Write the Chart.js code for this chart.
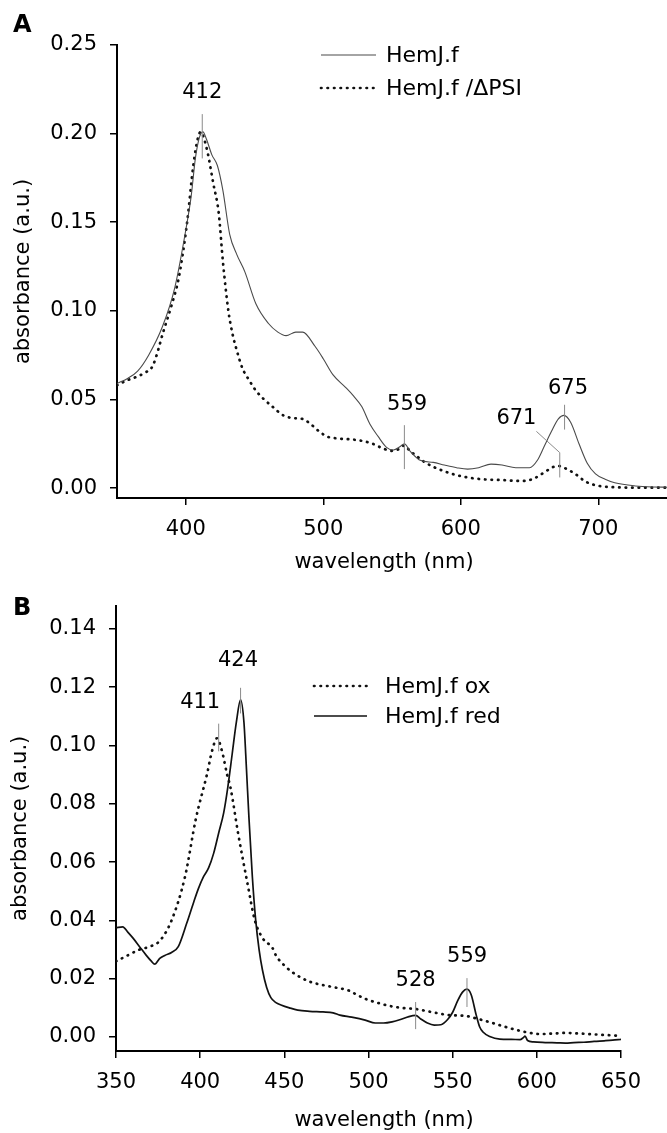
<!DOCTYPE html>
<html>
<head>
<meta charset="utf-8">
<script src="https://cdn.jsdelivr.net/npm/chart.js@4.4.1/dist/chart.umd.min.js"></script>
<style>
body { margin: 0; background: #fff; }
#wrap { position: relative; width: 667px; height: 1133px; }
canvas { position: absolute; left: 0; }
</style>
</head>
<body>
<div id="wrap">
  <canvas id="chartA" width="667" height="580" style="top:0"></canvas>
  <canvas id="chartB" width="667" height="553" style="top:580px"></canvas>
</div>
<script>
// ---- panel A : HemJ.f and HemJ.f /ΔPSI ----
var wlA_f = [350, 358, 365, 373, 383, 392, 401, 404, 407, 410, 412.5, 415, 419, 423, 427, 432, 437, 443, 451, 460, 467, 473, 480, 485, 494, 500, 507, 516, 522, 528, 534, 540, 546, 551, 556, 559, 563, 571, 580, 588, 597, 605, 613, 622, 630, 640, 650, 656, 661, 666, 671, 675, 680, 686, 692, 698, 705, 712, 727, 740, 750];
var absA_f = [0.059, 0.062, 0.066, 0.075, 0.091, 0.113, 0.150, 0.165, 0.186, 0.198, 0.201, 0.197, 0.188, 0.182, 0.168, 0.143, 0.132, 0.122, 0.104, 0.093, 0.088, 0.086, 0.088, 0.088, 0.080, 0.073, 0.064, 0.057, 0.052, 0.046, 0.036, 0.029, 0.023, 0.0215, 0.0235, 0.025, 0.021, 0.0155, 0.0145, 0.013, 0.0115, 0.0107, 0.0115, 0.0135, 0.013, 0.0115, 0.0115, 0.016, 0.024, 0.032, 0.039, 0.041, 0.037, 0.025, 0.014, 0.008, 0.005, 0.003, 0.0012, 0.0006, 0.0005];

var wlA_psi = [350, 358, 365, 370, 376, 384, 390, 395, 401, 405.5, 409, 411, 413, 416, 420, 424, 427, 431, 434, 437, 441, 446, 451, 457, 463, 471, 478, 485, 491, 497, 503, 510, 520, 529, 536, 543, 550, 555, 559, 563, 568, 573, 580, 588, 596, 605, 615, 630, 645, 652, 657, 662, 667, 671, 675, 680, 685, 690, 697, 705, 714, 730, 750];
var absA_psi = [0.058, 0.061, 0.063, 0.065, 0.069, 0.089, 0.104, 0.119, 0.150, 0.182, 0.198, 0.201, 0.198, 0.189, 0.172, 0.155, 0.128, 0.100, 0.087, 0.078, 0.068, 0.061, 0.055, 0.050, 0.046, 0.041, 0.0395, 0.039, 0.036, 0.032, 0.029, 0.028, 0.0275, 0.0265, 0.025, 0.0225, 0.021, 0.022, 0.024, 0.021, 0.018, 0.015, 0.012, 0.0095, 0.0075, 0.006, 0.005, 0.0045, 0.004, 0.005, 0.007, 0.0095, 0.0118, 0.0125, 0.0115, 0.0095, 0.007, 0.004, 0.0018, 0.0008, 0.0004, 0.0002, 0.0002];

var xTicksA = [400, 500, 600, 700];
var yTicksA = [0.00, 0.05, 0.10, 0.15, 0.20, 0.25];

// ---- panel B : HemJ.f ox and HemJ.f red ----
var wlB_ox = [350, 357, 364, 370, 376, 383, 391, 397.5, 404, 407, 410, 413, 416, 418, 422.5, 428, 432.5, 437, 443, 445, 451, 458, 465, 473, 480, 488, 493, 498.5, 505, 513, 520, 528, 538, 548, 558, 565, 572, 580, 588, 595, 602, 610, 617, 625, 637, 650];
var absB_ox = [0.026, 0.028, 0.030, 0.031, 0.033, 0.040, 0.055, 0.075, 0.090, 0.098, 0.1025, 0.098, 0.090, 0.0856, 0.070, 0.053, 0.040, 0.034, 0.0305, 0.028, 0.024, 0.021, 0.019, 0.0178, 0.017, 0.016, 0.0145, 0.013, 0.0118, 0.0106, 0.0100, 0.0096, 0.0085, 0.0075, 0.0072, 0.0062, 0.0051, 0.0037, 0.0024, 0.0015, 0.001, 0.0012, 0.0014, 0.0012, 0.0008, 0.0004];

var wlB_red = [350, 354, 357, 360, 364, 368, 371, 373, 376, 379, 383, 387, 392, 396, 399, 402, 405, 408, 411, 414, 416.5, 419, 421.5, 424, 426, 427.5, 429, 431, 433, 435, 437, 439.5, 442, 445, 448, 453, 458, 465, 473, 479, 483, 490, 498, 504, 509, 514, 519, 524, 528, 531, 535, 539, 543, 547, 550, 553, 556, 558.5, 561, 564, 566, 568, 572, 578, 585, 590, 592, 593, 594.5, 598, 605, 612, 617, 622, 628, 634, 640, 645, 650];
var absB_red = [0.0375, 0.0378, 0.036, 0.034, 0.031, 0.028, 0.026, 0.025, 0.027, 0.028, 0.029, 0.031, 0.039, 0.046, 0.051, 0.055, 0.058, 0.063, 0.070, 0.077, 0.086, 0.097, 0.108, 0.1157, 0.108, 0.092, 0.075, 0.055, 0.040, 0.030, 0.023, 0.017, 0.0135, 0.0118, 0.011, 0.0100, 0.0092, 0.0088, 0.0086, 0.0083, 0.0075, 0.0068, 0.0058, 0.0048, 0.0048, 0.0052, 0.0060, 0.0070, 0.0074, 0.0062, 0.0048, 0.0041, 0.0042, 0.0060, 0.0085, 0.0125, 0.0155, 0.0164, 0.0145, 0.0075, 0.0035, 0.0017, 0.0002, -0.0007, -0.0008, -0.0009, -0.0002, 0.0003, -0.0012, -0.0017, -0.0019, -0.0020, -0.0021, -0.0019, -0.0018, -0.0015, -0.0013, -0.0011, -0.0008];

var xTicksB = [350, 400, 450, 500, 550, 600, 650];
var yTicksB = [0.00, 0.02, 0.04, 0.06, 0.08, 0.10, 0.12, 0.14];

// peak markers (wavelength, absorbance)
var peakLinesA = [
    [[412, 0.186], [412, 0.211]],
    [[559, 0.0107], [559, 0.0355]],
    [[675.5, 0.033], [675.5, 0.047]],
    [[655, 0.032], [672, 0.020], [672, 0.006]]
];
var peakLabelsA = [
    {text: '412', x: 412, y: 0.223},
    {text: '559', x: 561, y: 0.047},
    {text: '675', x: 678, y: 0.0564},
    {text: '671', x: 640.5, y: 0.0395}
];
var peakLinesB = [
    [[411, 0.098], [411, 0.1075]],
    [[424, 0.111], [424, 0.1198]],
    [[528, 0.0027], [528, 0.012]],
    [[558.5, 0.0103], [558.5, 0.0202]]
];
var peakLabelsB = [
    {text: '411', x: 400, y: 0.1147},
    {text: '424', x: 422.5, y: 0.129},
    {text: '528', x: 528, y: 0.0192},
    {text: '559', x: 558.6, y: 0.0277}
];

Chart.defaults.font.family = 'DejaVu Sans';
Chart.defaults.font.size = 21;
Chart.defaults.color = '#000';

function pts(xs, ys) {
    return xs.map(function (x, i) { return {x: x, y: ys[i]}; });
}

var solidThin = {borderColor: '#4a4a4a', borderWidth: 1.1, pointRadius: 0, cubicInterpolationMode: 'monotone', fill: false};
var solidBold = {borderColor: '#111', borderWidth: 1.7, pointRadius: 0, cubicInterpolationMode: 'monotone', fill: false};
var dotted = {borderColor: '#111', borderWidth: 2.7, borderDash: [0.5, 6], borderCapStyle: 'round', pointRadius: 0, cubicInterpolationMode: 'monotone', fill: false};

// peaks, panel letter, x title and legend
var decorPlugin = {
    id: 'decor',
    afterDatasetsDraw: function (chart, args, opts) {
        var ctx = chart.ctx, x = chart.scales.x, y = chart.scales.y;
        ctx.save();
        ctx.strokeStyle = '#8a8a8a';
        ctx.lineWidth = 1;
        opts.lines.forEach(function (line) {
            ctx.beginPath();
            line.forEach(function (p, i) {
                var px = x.getPixelForValue(p[0]), py = y.getPixelForValue(p[1]);
                if (i) ctx.lineTo(px, py); else ctx.moveTo(px, py);
            });
            ctx.stroke();
        });
        ctx.fillStyle = '#000';
        ctx.font = '21px "DejaVu Sans"';
        ctx.textAlign = 'center';
        ctx.textBaseline = 'middle';
        opts.labels.forEach(function (l) {
            ctx.fillText(l.text, x.getPixelForValue(l.x), y.getPixelForValue(l.y));
        });
        ctx.fillText('wavelength (nm)', opts.xTitle.x, opts.xTitle.y);

        ctx.font = 'bold 24px "DejaVu Sans"';
        ctx.textAlign = 'left';
        ctx.textBaseline = 'alphabetic';
        ctx.fillText(opts.letter, 13, opts.letterY);

        var lg = opts.legend;
        ctx.font = '22px "DejaVu Sans"';
        ctx.textBaseline = 'middle';
        chart.data.datasets.forEach(function (ds, i) {
            var ly = lg.y + i * lg.gap;
            ctx.save();
            ctx.strokeStyle = ds.borderColor;
            ctx.lineWidth = ds.borderWidth;
            ctx.lineCap = ds.borderCapStyle || 'butt';
            ctx.setLineDash(ds.borderDash || []);
            ctx.beginPath();
            ctx.moveTo(lg.x, ly);
            ctx.lineTo(lg.x + lg.len, ly);
            ctx.stroke();
            ctx.restore();
            ctx.fillText(ds.label, lg.textX, ly + 1);
        });
        ctx.restore();
    }
};

function scalesFor(xMin, xMax, xTicks, yMin, yMax, yTicks, yWidth, xHeight, yPad) {
    var grid = {display: true, drawOnChartArea: false, drawTicks: true, tickLength: 7, color: '#000', lineWidth: 1.5};
    var border = {display: true, color: '#000', width: 2};
    return {
        x: {
            type: 'linear', min: xMin, max: xMax,
            grid: grid, border: border,
            afterBuildTicks: function (s) { s.ticks = xTicks.map(function (v) { return {value: v}; }); },
            afterFit: function (s) { s.height = xHeight; },
            ticks: {padding: 12, maxRotation: 0, autoSkip: false, callback: function (v) { return String(v); }}
        },
        y: {
            type: 'linear', min: yMin, max: yMax,
            grid: grid, border: border,
            afterBuildTicks: function (s) { s.ticks = yTicks.map(function (v) { return {value: v}; }); },
            afterFit: function (s) { s.width = yWidth; },
            ticks: {padding: 13, autoSkip: false, callback: function (v) { return Number(v).toFixed(2); }},
            title: {display: true, text: 'absorbance (a.u.)', padding: {top: yPad, bottom: 0}, font: {size: 21}}
        }
    };
}

new Chart(document.getElementById('chartA').getContext('2d'), {
    type: 'line',
    data: {
        datasets: [
            Object.assign({label: 'HemJ.f', data: pts(wlA_f, absA_f)}, solidThin),
            Object.assign({label: 'HemJ.f /ΔPSI', data: pts(wlA_psi, absA_psi)}, dotted)
        ]
    },
    options: {
        responsive: false,
        animation: false,
        layout: {padding: {top: 45, right: 0, left: 0, bottom: 0}},
        scales: scalesFor(350, 750, xTicksA, -0.0056, 0.25, yTicksA, 117, 82, 11),
        plugins: {
            legend: {display: false},
            tooltip: {enabled: false},
            decor: {lines: peakLinesA, labels: peakLabelsA, letter: 'A', letterY: 32,
                xTitle: {x: 384, y: 563},
                legend: {x: 321, len: 55, textX: 386, y: 55, gap: 33}}
        }
    },
    plugins: [decorPlugin]
});

new Chart(document.getElementById('chartB').getContext('2d'), {
    type: 'line',
    data: {
        datasets: [
            Object.assign({label: 'HemJ.f ox', data: pts(wlB_ox, absB_ox)}, dotted),
            Object.assign({label: 'HemJ.f red', data: pts(wlB_red, absB_red)}, solidBold)
        ]
    },
    options: {
        responsive: false,
        animation: false,
        layout: {padding: {top: 25, right: 46, left: 0, bottom: 0}},
        scales: scalesFor(350, 650, xTicksB, -0.0048, 0.148, yTicksB, 116, 82, 8),
        plugins: {
            legend: {display: false},
            tooltip: {enabled: false},
            decor: {lines: peakLinesB, labels: peakLabelsB, letter: 'B', letterY: 35,
                xTitle: {x: 384, y: 541},
                legend: {x: 314, len: 53, textX: 385, y: 106, gap: 30}}
        }
    },
    plugins: [decorPlugin]
});
</script>
</body>
</html>
